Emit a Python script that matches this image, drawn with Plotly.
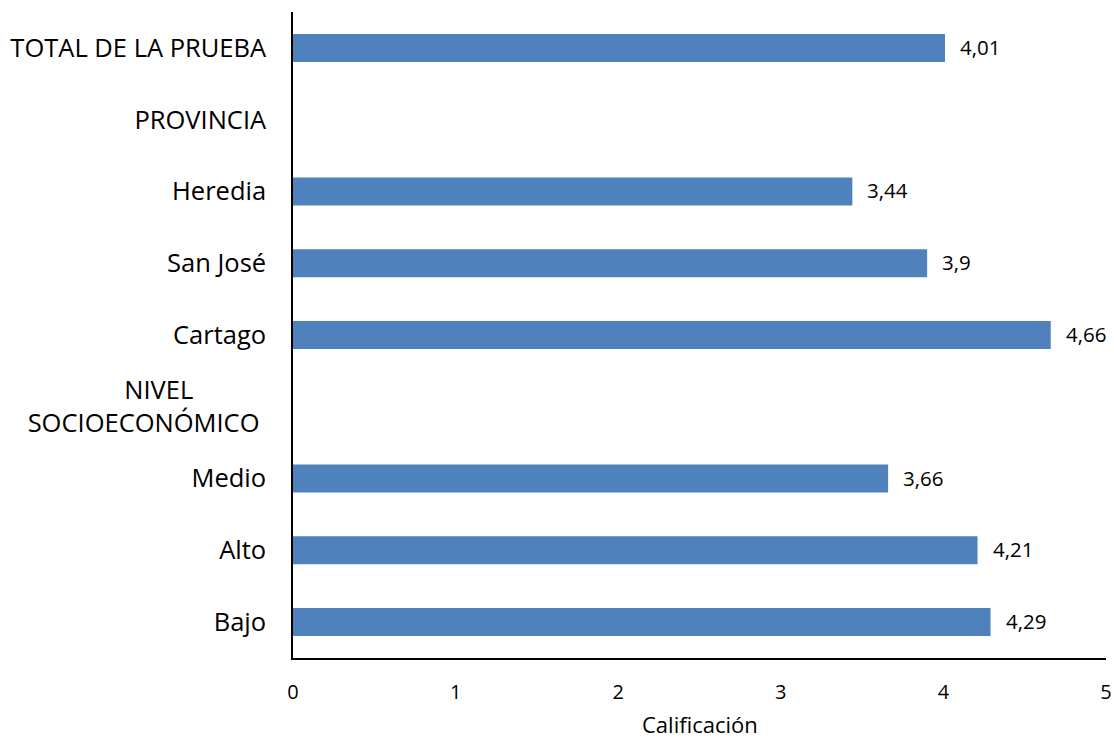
import plotly.graph_objects as go

# Average grade by group (empty rows are section headers)
categorias = ["TOTAL DE LA PRUEBA", "PROVINCIA", "Heredia", "San José", "Cartago",
              "NIVEL SOCIOECONÓMICO", "Medio", "Alto", "Bajo"]
calificacion = [4.01, None, 3.44, 3.90, 4.66, None, 3.66, 4.21, 4.29]
# Category labels as shown on the axis (the long header wraps onto two lines)
etiquetas_y = ["TOTAL DE LA PRUEBA", "PROVINCIA", "Heredia", "San José", "Cartago",
               "NIVEL" + "\u00a0" * 11 + "<br>SOCIOECONÓMICO\u00a0", "Medio", "Alto", "Bajo"]
ticks_x = [0, 1, 2, 3, 4, 5]
titulo_x = "Calificación"

FONT = "Open Sans"
AZUL = "#4F81BD"

def etiqueta(v):
    s = f"{v:.2f}".rstrip("0").rstrip(".")
    return s.replace(".", ",")

fig = go.Figure()
fig.add_trace(go.Bar(
    y=categorias,
    x=calificacion,
    orientation="h",
    marker=dict(color=AZUL, line=dict(width=0)),
    hoverinfo="skip",
))

# value labels just right of each bar
for cat, v in zip(categorias, calificacion):
    if v is None:
        continue
    fig.add_annotation(
        x=v, y=cat, xref="x", yref="y",
        text=etiqueta(v), showarrow=False,
        xanchor="left", xshift=13, yshift=1,
        font=dict(family=FONT, size=20.5, color="#000000"),
    )

# x-axis title, centred below the tick labels
fig.add_annotation(
    x=0.5, y=0, xref="paper", yref="paper",
    text=titulo_x, showarrow=False,
    xanchor="center", yanchor="middle", yshift=-66,
    borderpad=0,
    font=dict(family=FONT, size=22, color="#000000"),
)

fig.update_layout(
    width=1114, height=738,
    margin=dict(l=293, r=8, t=12, b=80, autoexpand=False),
    paper_bgcolor="white", plot_bgcolor="white",
    bargap=0.61,
    showlegend=False,
    font=dict(family=FONT, color="#000000"),
)

fig.update_xaxes(
    range=[0, 5],
    tickvals=ticks_x,
    ticktext=[str(t) for t in ticks_x],
    showgrid=False, zeroline=False,
    showline=True, linecolor="#000000", linewidth=1.5,
    ticks="", ticklabelstandoff=15,
    tickfont=dict(family=FONT, size=20),
    automargin=False,
)

fig.update_yaxes(
    type="category",
    categoryorder="array", categoryarray=categorias,
    tickvals=categorias, ticktext=etiquetas_y,
    autorange="reversed",
    showgrid=False, zeroline=False,
    showline=True, linecolor="#000000", linewidth=1.5,
    ticks="", ticklabelstandoff=20,
    automargin=False,
    tickfont=dict(family=FONT, size=25.5),
)

fig.write_html("out.html")
